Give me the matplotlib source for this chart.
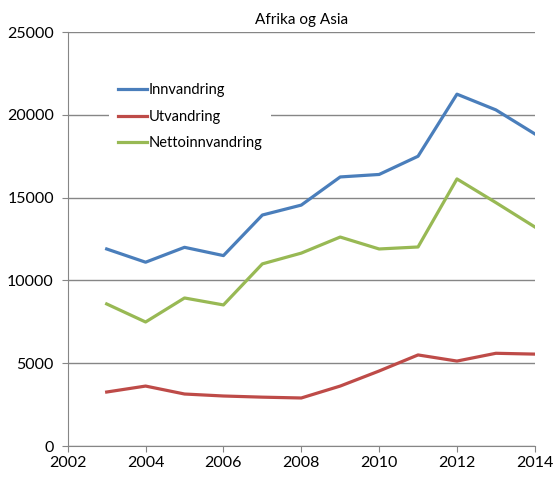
import matplotlib.pyplot as plt

years = [2003, 2004, 2005, 2006, 2007, 2008, 2009, 2010, 2011, 2012, 2013, 2014]
innvandring = [11900, 11100, 12000, 11500, 13950, 14550, 16250, 16400, 17500, 21250, 20300, 18850]
utvandring = [3260, 3620, 3140, 3020, 2950, 2900, 3620, 4530, 5500, 5130, 5600, 5550]
netto = [8580, 7490, 8940, 8520, 11000, 11650, 12620, 11900, 12020, 16130, 14700, 13230]

C_INN = "#4A7EBB"
C_UT = "#BE4B48"
C_NET = "#98B954"
GRID = "#868686"

plt.rcParams.update({"font.family": ["Lato", "DejaVu Sans"], "font.size": 10})
fig = plt.figure(figsize=(5.6, 4.83), dpi=100)
ax = fig.add_axes([0.121, 0.0766, 0.834, 0.857])

ax.plot(years, innvandring, color=C_INN, lw=2.3, label="Innvandring")
ax.plot(years, utvandring, color=C_UT, lw=2.3, label="Utvandring")
ax.plot(years, netto, color=C_NET, lw=2.3, label="Nettoinnvandring")

ax.set_xlim(2002, 2014)
ax.set_ylim(0, 25000)
ax.set_xticks(range(2002, 2015, 2))
ax.set_yticks(range(0, 25001, 5000))
ax.yaxis.grid(True, color=GRID, lw=1)
ax.set_axisbelow(True)
for s in ("top", "right"):
    ax.spines[s].set_visible(False)
for s in ("left", "bottom"):
    ax.spines[s].set_color(GRID)
ax.tick_params(axis="both", colors=GRID, length=4, labelcolor="black", labelsize=11.5)
ax.tick_params(axis="y", pad=6)

ax.set_title("Afrika og Asia", fontsize=11, pad=6)

leg = ax.legend(loc="upper left", bbox_to_anchor=(0.073, 0.915), frameon=True,
                facecolor="white", edgecolor="none", framealpha=1, fancybox=False,
                handlelength=2.0, handletextpad=0.1, labelspacing=0.85, fontsize=10.5,
                borderpad=0.6)

fig.savefig("out.png", dpi=100)
